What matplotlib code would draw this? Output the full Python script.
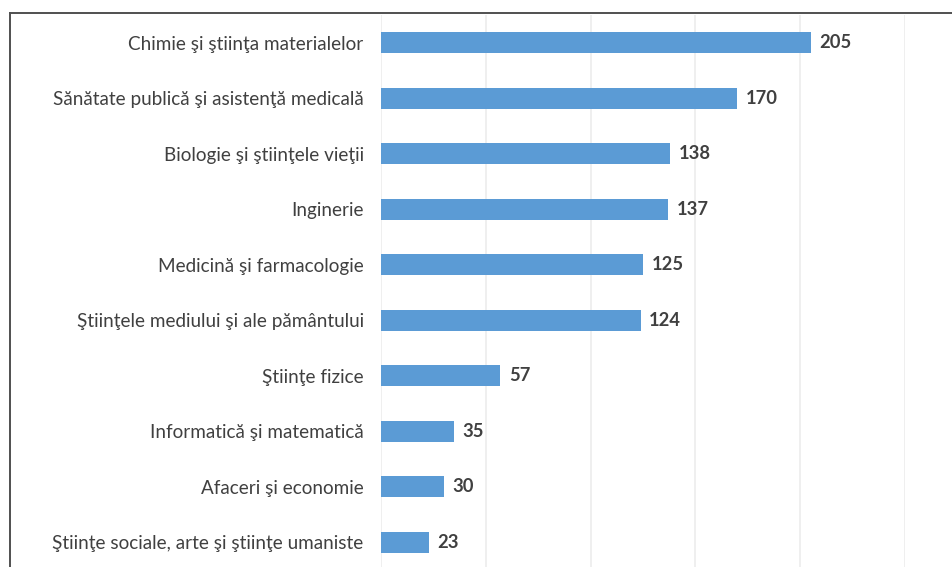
import matplotlib
matplotlib.use("Agg")
import matplotlib.pyplot as plt
from matplotlib.lines import Line2D

plt.rcParams['font.family'] = ['Lato', 'DejaVu Sans']

domains = [
    "Chimie şi ştiinţa materialelor",
    "Sănătate publică şi asistenţă medicală",
    "Biologie şi ştiinţele vieţii",
    "Inginerie",
    "Medicină şi farmacologie",
    "Ştiinţele mediului şi ale pământului",
    "Ştiinţe fizice",
    "Informatică şi matematică",
    "Afaceri şi economie",
    "Ştiinţe sociale, arte şi ştiinţe umaniste",
]
counts = [205, 170, 138, 137, 125, 124, 57, 35, 30, 23]

W, H = 952, 567
fig = plt.figure(figsize=(W / 100, H / 100), dpi=100)
fig.patch.set_facecolor("white")

# plot area runs slightly past the bottom edge (chart is cropped there)
left, right = 381 / W, 905 / W
top, bottom = 1 - 15 / H, 1 - 570 / H
ax = fig.add_axes([left, bottom, right - left, top - bottom])

ypos = list(range(len(domains)))
ax.barh(ypos, counts, height=0.37, color="#5b9bd5", zorder=3)
ax.set_ylim(len(domains) - 0.5, -0.5)
ax.set_xlim(0, 250)
ax.set_xticks(range(0, 251, 50))
ax.xaxis.grid(True, color="#ececec", linewidth=1.2, zorder=0)
ax.tick_params(axis="x", bottom=False, labelbottom=False)
ax.tick_params(axis="y", left=False, pad=9, labelsize=13.6, labelcolor="#404040")
ax.set_yticks(ypos)
ax.set_yticklabels(domains)
for s in ax.spines.values():
    s.set_visible(False)

for y, v in zip(ypos, counts):
    ax.annotate(str(v), (v, y), xytext=(6, 0), textcoords="offset points",
                va="center", ha="left", fontsize=13.2, fontweight="bold",
                color="#404040")

# outer frame: top and left edges
fig.add_artist(Line2D([10 / W, 1.0], [1 - 13 / H, 1 - 13 / H],
                      color="#505050", linewidth=1.4, transform=fig.transFigure))
fig.add_artist(Line2D([10 / W, 10 / W], [0.0, 1 - 13 / H],
                      color="#505050", linewidth=1.4, transform=fig.transFigure))

fig.savefig("out.png", dpi=100)
